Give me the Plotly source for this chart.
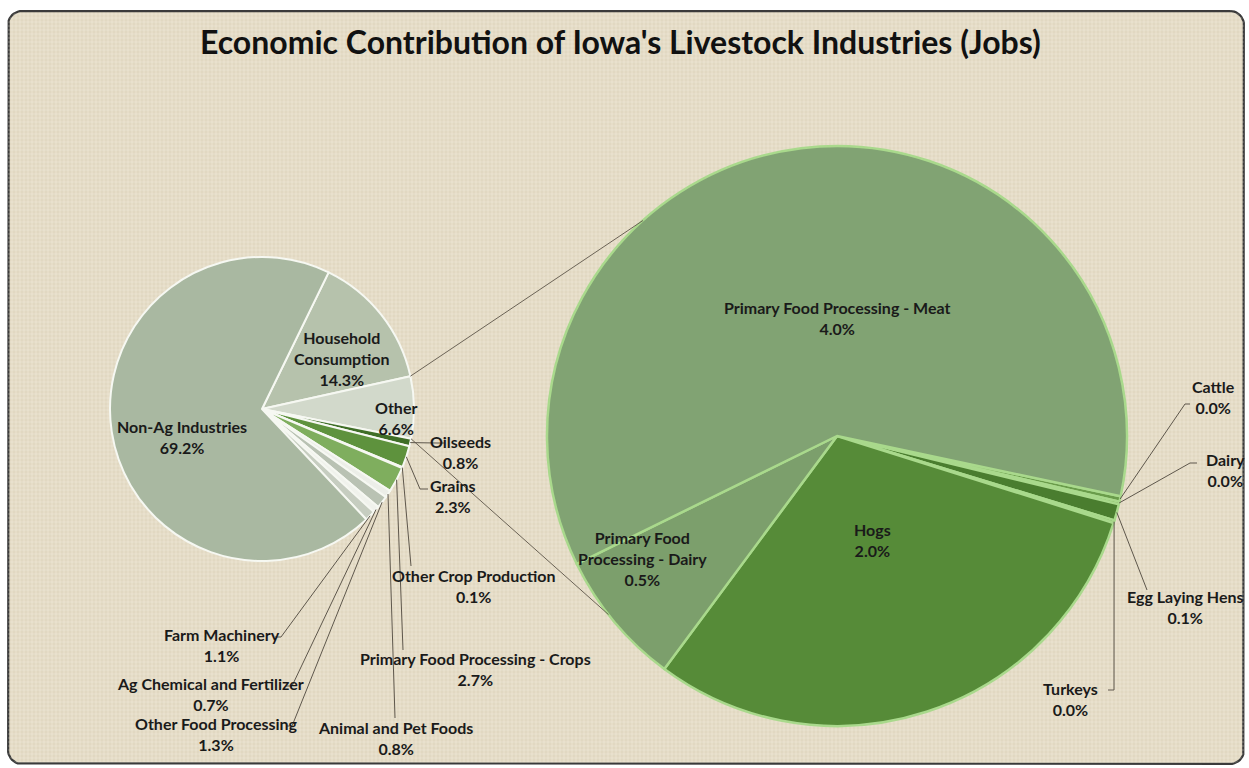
import math
import plotly.graph_objects as go

W, H = 1249, 768

# ---- data: share of total Iowa jobs (%) ----
main_labels = ["Household Consumption", "Other", "Oilseeds", "Grains", "Other Crop Production",
               "Primary Food Processing - Crops", "Animal and Pet Foods", "Other Food Processing",
               "Ag Chemical and Fertilizer", "Farm Machinery", "Non-Ag Industries"]
main_known = [14.3, None, 0.8, 2.3, 0.1, 2.7, 0.8, 1.3, 0.7, 1.1, 69.2]

detail_labels = ["Cattle", "Dairy", "Egg Laying Hens", "Turkeys", "Hogs",
                 "Primary Food Processing - Dairy", "Primary Food Processing - Meat"]
detail_values = [0.02, 0.01, 0.06, 0.01, 2.0, 0.5, 4.0]

# the "Other" slice of the first pie is the sum of the second pie
other_total = sum(detail_values)
main_values = [other_total if v is None else v for v in main_known]

main_colors = ["#B6C2AC", "#D2D9CB", "#3F6E27", "#5E923D", "#C9D08C", "#7FAE5E",
               "#ECEEE8", "#B9C2B3", "#F0F2EC", "#C6CDC0", "#A9B8A1"]
detail_colors = ["#6A9C4B", "#5E9040", "#4A7D2F", "#6FA252", "#568B38", "#7C9F6C", "#81A373"]

# ---- layout geometry (pixels) ----
L_CX, L_CY, L_R, L_ROT = 262, 409, 152, 26
R_CX, R_CY, R_R, R_ROT = 837, 436, 290, 102
CONNECT_ANGLES = (318, 232)   # where the connector lines meet the second pie

FONT = "Lato, 'Open Sans', sans-serif"
TXT = "#1A1A1A"
LABEL_SIZE = 16


def domain(cx, cy, r):
    return dict(x=[(cx - r) / W, (cx + r) / W], y=[(H - cy - r) / H, (H - cy + r) / H])


def slice_angles(values, rot):
    total = sum(values)
    out, a = [], rot
    for v in values:
        span = 360.0 * v / total
        out.append((a, a + span))
        a += span
    return out


def arc_point(cx, cy, r, ang):
    t = math.radians(ang)
    return cx + r * math.sin(t), cy - r * math.cos(t)


def pct(v):
    return f"{v:.1f}%"


fig = go.Figure()

# rounded frame polygon (used for the linen texture fill)
x0, y0, x1, y1, rad = 8, 11, 1244, 764, 14
frame_x, frame_y = [], []
for (ccx, ccy, a0) in [(x1 - rad, y0 + rad, -90), (x1 - rad, y1 - rad, 0),
                       (x0 + rad, y1 - rad, 90), (x0 + rad, y0 + rad, 180)]:
    for k in range(10):
        a = math.radians(a0 + 9 * k)
        frame_x.append(ccx + rad * math.cos(a))
        frame_y.append(ccy + rad * math.sin(a))
frame_x.append(frame_x[0])
frame_y.append(frame_y[0])

fig.add_trace(go.Scatter(x=frame_x, y=frame_y, mode="lines", fill="toself",
                         line=dict(color="#3A3A3A", width=2.2),
                         fillcolor="#E5DCC6",
                         fillpattern=dict(shape="|", size=4, solidity=0.2,
                                          fgcolor="#CDC2A7", bgcolor="#E6DDC8"),
                         hoverinfo="skip", showlegend=False))
fig.add_trace(go.Scatter(x=frame_x, y=frame_y, mode="none", fill="toself",
                         fillpattern=dict(shape="-", size=4, solidity=0.18,
                                          fgcolor="rgba(246,241,230,0.9)",
                                          bgcolor="rgba(0,0,0,0)"),
                         hoverinfo="skip", showlegend=False))

fig.add_trace(go.Pie(labels=main_labels, values=main_values, sort=False,
                     direction="clockwise", rotation=L_ROT, textinfo="none",
                     marker=dict(colors=main_colors, line=dict(color="#F6F8F2", width=2)),
                     domain=domain(L_CX, L_CY, L_R), showlegend=False))
fig.add_trace(go.Pie(labels=detail_labels, values=detail_values, sort=False,
                     direction="clockwise", rotation=R_ROT, textinfo="none",
                     marker=dict(colors=detail_colors, line=dict(color="#A9D98C", width=2.5)),
                     domain=domain(R_CX, R_CY, R_R), showlegend=False))

shapes, annotations = [], []
main_ang = slice_angles(main_values, L_ROT)
detail_ang = slice_angles(detail_values, R_ROT)

# connector lines from the "Other" slice to the second pie
oi = main_labels.index("Other")
for a_left, a_right in zip(main_ang[oi], CONNECT_ANGLES):
    px, py = arc_point(L_CX, L_CY, L_R, a_left)
    qx, qy = arc_point(R_CX, R_CY, R_R, a_right)
    shapes.append(dict(type="line", xref="x", yref="y", x0=px, y0=py, x1=qx, y1=qy,
                       line=dict(color="#6B6356", width=1), layer="above"))

# label placement: text centre and leader-line waypoints
main_inside = {
    "Non-Ag Industries": ("Non-Ag Industries", 182, 437),
    "Household Consumption": ("Household<br>Consumption", 342, 358),
    "Other": ("Other", 396, 418),
}
main_outside = {
    "Oilseeds": (460, 452, [(437, 443), (444, 443)]),
    "Grains": (453, 496, [(420, 489), (428, 489)]),
    "Other Crop Production": (473, 586, [(411, 566)]),
    "Primary Food Processing - Crops": (475, 669, [(403, 650)]),
    "Animal and Pet Foods": (395, 738, [(395, 718)]),
    "Other Food Processing": (216, 734, [(292, 726), (286, 726)]),
    "Ag Chemical and Fertilizer": (210, 694, [(292, 686), (286, 686)]),
    "Farm Machinery": (222, 645, [(281, 637), (275, 637)]),
}
detail_inside = {
    "Primary Food Processing - Meat": ("Primary Food Processing - Meat", 837, 318),
    "Hogs": ("Hogs", 872, 540),
    "Primary Food Processing - Dairy": ("Primary Food<br>Processing - Dairy", 642, 558),
}
detail_outside = {
    "Cattle": (1213, 397, [(1185, 404), (1190, 404)]),
    "Dairy": (1225, 470, [(1190, 463), (1197, 463)]),
    "Egg Laying Hens": (1185, 607, [(1147, 590)]),
    "Turkeys": (1070, 699, [(1114, 690), (1108, 690)]),
}


def add_labels(labels, values, angles, inside, outside, cx, cy, r):
    for lab, val, (a0, a1) in zip(labels, values, angles):
        if lab in inside:
            txt, tx, ty = inside[lab]
            annotations.append(dict(x=tx, y=ty, text=f"{txt}<br>{pct(val)}"))
        elif lab in outside:
            tx, ty, pts = outside[lab]
            annotations.append(dict(x=tx, y=ty, text=f"{lab}<br>{pct(val)}"))
            sx, sy = arc_point(cx, cy, r, (a0 + a1) / 2)
            path = f"M{sx:.1f},{sy:.1f}" + "".join(f" L{px},{py}" for px, py in pts)
            shapes.append(dict(type="path", xref="x", yref="y", path=path,
                               line=dict(color="#5E574C", width=1), layer="above"))


add_labels(main_labels, main_values, main_ang, main_inside, main_outside, L_CX, L_CY, L_R)
add_labels(detail_labels, detail_values, detail_ang, detail_inside, detail_outside, R_CX, R_CY, R_R)

for a in annotations:
    a.update(xref="x", yref="y", showarrow=False, xanchor="center", yanchor="middle",
             align="center", font=dict(family=FONT, size=LABEL_SIZE, color=TXT))
    a["text"] = "<b>" + a["text"].replace("<br>", "</b><br><b>") + "</b>"

annotations.append(dict(x=620, y=41, xref="x", yref="y", showarrow=False,
                        text="<b>Economic Contribution of Iowa's Livestock Industries (Jobs)</b>",
                        xanchor="center", yanchor="middle",
                        font=dict(family=FONT, size=32, color="#111111")))

fig.update_layout(
    width=W, height=H,
    margin=dict(l=0, r=0, t=0, b=0),
    paper_bgcolor="white", plot_bgcolor="rgba(0,0,0,0)",
    xaxis=dict(range=[0, W], visible=False, fixedrange=True),
    yaxis=dict(range=[H, 0], visible=False, fixedrange=True),
    shapes=shapes, annotations=annotations,
    showlegend=False,
)

fig.write_html("out.html")
